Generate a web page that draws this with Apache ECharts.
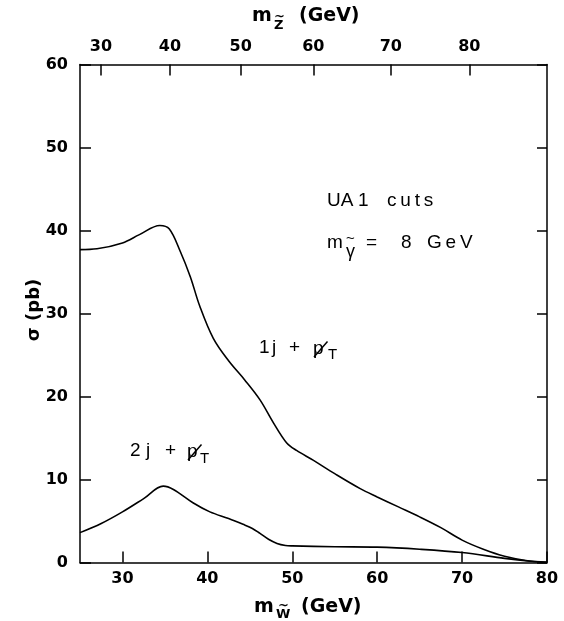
<!DOCTYPE html>
<html>
<head>
<meta charset="utf-8">
<script src="https://cdn.jsdelivr.net/npm/echarts@6/dist/echarts.min.js"></script>
<style>
html,body{margin:0;padding:0;background:#fff;}
#c{width:564px;height:621px;}
</style>
</head>
<body>
<div id="c"></div>
<script>
// m_W~ (GeV) sample positions and cross sections (pb)
const oneJetX = [25, 27, 30, 32, 34.4, 35.5, 36.8, 38, 39.1, 40.7, 42.5, 44.4, 46.2, 47.8, 49.35, 50.5, 52.5, 55, 58, 60, 62.5, 65, 67.5, 70, 72.5, 75, 77.5, 80];
const oneJetY = [37.7, 37.8, 38.5, 39.5, 40.6, 40.2, 37.5, 34.4, 30.9, 27.0, 24.3, 22.0, 19.6, 16.8, 14.4, 13.5, 12.3, 10.7, 8.9, 7.9, 6.7, 5.5, 4.2, 2.7, 1.6, 0.75, 0.25, 0.05];
const twoJetX = [25, 27.5, 30, 32.5, 34.8, 36, 38.3, 40.3, 42.5, 44.2, 45.3, 46.2, 47.2, 48.2, 49.2, 50, 55, 60, 65, 70, 75, 78, 80];
const twoJetY = [3.6, 4.7, 6.1, 7.7, 9.2, 8.8, 7.2, 6.1, 5.3, 4.6, 4.1, 3.5, 2.8, 2.3, 2.05, 2.0, 1.9, 1.85, 1.6, 1.2, 0.5, 0.15, 0.0];
// bottom axis ticks (m_W~) and y ticks
const bottomTicks = [30, 40, 50, 60, 70, 80];
const yTicks = [0, 10, 20, 30, 40, 50, 60];
// top axis: m_Z~ labels and the m_W~ positions where they sit
const topTickMZ = [30, 40, 50, 60, 70, 80];
const topTickMW = [27.47, 35.60, 43.93, 52.48, 61.60, 70.85];

const FONT = "'DejaVu Sans', sans-serif";
const AFONT = "'Liberation Sans', Arial, sans-serif";
const chart = echarts.init(document.getElementById('c'), null, {renderer: 'canvas'});
const pair = (xs, ys) => xs.map((x, i) => [x, ys[i]]);

const axisLineStyle = {color: '#000', width: 1.5};
const tickLabel = {color: '#000', fontSize: 16, fontWeight: 'bold', fontFamily: FONT};

// text piece helper (x = left edge, y = vertical middle)
function txt(x, y, s, size, bold, fam) {
  return {type: 'text', x: x, y: y, silent: true, style: {
    text: s, font: (bold ? 'bold ' : '') + size + 'px ' + (fam || FONT), fill: '#000', align: 'left', verticalAlign: 'middle'}};
}
function stroke(x1, y1, x2, y2) {
  return {type: 'line', silent: true, shape: {x1: x1, y1: y1, x2: x2, y2: y2}, style: {stroke: '#000', lineWidth: 1.5}};
}
const T = '\u2009';

chart.setOption({
  animation: false,
  backgroundColor: '#fff',
  grid: {left: 80, right: 17, top: 64.5, bottom: 58.5, containLabel: false, outerBoundsMode: 'none'},
  xAxis: [{
    type: 'value', position: 'bottom', min: 25, max: 80,
    axisLine: {show: true, onZero: false, lineStyle: axisLineStyle},
    axisTick: {show: true, inside: true, length: 11, customValues: bottomTicks, lineStyle: {color: '#000', width: 1.5}},
    axisLabel: Object.assign({customValues: bottomTicks, margin: 8}, tickLabel),
    splitLine: {show: false}
  }, {
    type: 'value', position: 'top', min: 25, max: 80,
    axisLine: {show: true, onZero: false, lineStyle: axisLineStyle},
    axisTick: {show: true, inside: true, length: 11, customValues: topTickMW, lineStyle: {color: '#000', width: 1.5}},
    axisLabel: Object.assign({customValues: topTickMW, margin: 10,
      formatter: v => {
        let best = 0;
        topTickMW.forEach((w, i) => { if (Math.abs(w - v) < Math.abs(topTickMW[best] - v)) best = i; });
        return String(topTickMZ[best]);
      }}, tickLabel),
    splitLine: {show: false}
  }],
  yAxis: [{
    type: 'value', position: 'left', min: 0, max: 60, interval: 10,
    axisLine: {show: true, onZero: false, lineStyle: axisLineStyle},
    axisTick: {show: true, inside: true, length: 11, lineStyle: {color: '#000', width: 1.5}},
    axisLabel: Object.assign({margin: 12}, tickLabel),
    splitLine: {show: false}
  }, {
    type: 'value', position: 'right', min: 0, max: 60, interval: 10,
    axisLine: {show: true, onZero: false, lineStyle: axisLineStyle},
    axisTick: {show: true, inside: true, length: 10, lineStyle: {color: '#000', width: 1.5}},
    axisLabel: {show: false},
    splitLine: {show: false}
  }],
  series: [{
    name: '1j + pT', type: 'line', xAxisIndex: 0, yAxisIndex: 0,
    data: pair(oneJetX, oneJetY), showSymbol: false, smooth: 0.35,
    lineStyle: {color: '#000', width: 1.6}
  }, {
    name: '2j + pT', type: 'line', xAxisIndex: 0, yAxisIndex: 0,
    data: pair(twoJetX, twoJetY), showSymbol: false, smooth: 0.35,
    lineStyle: {color: '#000', width: 1.6}
  }],
  graphic: [
    // top axis name: m_Z~ (GeV)
    txt(252, 16, 'm', 19, true), txt(274, 26, 'Z', 13, true), txt(274, 17, '~', 13, true),
    txt(299, 16, '(GeV)', 19, true),
    // bottom axis name: m_W~ (GeV)
    txt(254, 607, 'm', 19, true), txt(276, 615, 'W', 13, true), txt(278, 606, '~', 13, true),
    txt(301, 607, '(GeV)', 19, true),
    // y axis name
    {type: 'text', x: 34, y: 310, rotation: Math.PI / 2, silent: true, style: {
      text: 'σ (pb)', font: 'bold 18px ' + FONT, fill: '#000', align: 'center', verticalAlign: 'middle'}},
    // UA1 cuts
    txt(327, 201, 'UA', 19, false, AFONT), txt(358, 201, '1', 19, false, AFONT),
    txt(387, 201, 'c' + T + 'u' + T + 't' + T + 's', 19, false, AFONT),
    // m_gamma~ = 8 GeV
    txt(327, 243, 'm', 19, false, AFONT), txt(346, 252, 'γ', 18, false, AFONT), txt(346, 239, '~', 15, false, AFONT),
    txt(366, 243, '=', 19, false, AFONT), txt(401, 243, '8', 19, false, AFONT),
    txt(427, 243, 'G' + T + 'e' + T + 'V', 19, false, AFONT),
    // 1j + pT-slash
    txt(259, 348, '1', 19, false, AFONT), txt(272, 348, 'j', 19, false, AFONT), txt(289, 348, '+', 19, false, AFONT),
    txt(313, 349, 'p', 19, false, AFONT), stroke(314, 357, 327.5, 341.5), txt(328, 355, 'T', 15, false, AFONT),
    // 2j + pT-slash
    txt(130, 451, '2', 19, false, AFONT), txt(146, 451, 'j', 19, false, AFONT), txt(165, 451, '+', 19, false, AFONT),
    txt(187, 452, 'p', 19, false, AFONT), stroke(188, 460, 201.5, 444.5), txt(200, 459, 'T', 15, false, AFONT)
  ]
});
</script>
</body>
</html>
